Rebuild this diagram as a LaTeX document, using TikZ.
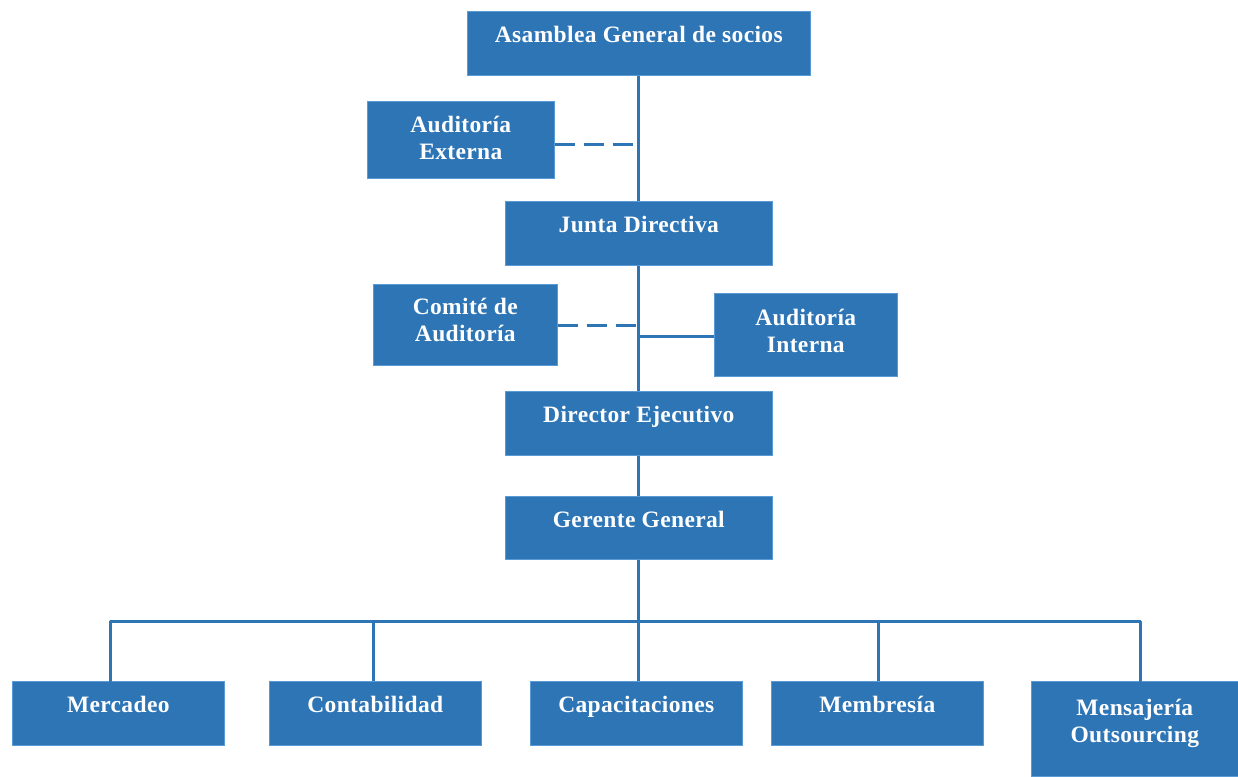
\documentclass[tikz,border=0pt]{standalone}
\usepackage{fontspec}
\setmainfont{Liberation Serif}
\newfontfamily\orgfont[LetterSpace=1.5]{Liberation Serif}
\definecolor{orgblue}{HTML}{2E75B6}
\definecolor{orgedge}{HTML}{5B9BD5}
\tikzset{
  orgbox/.style={fill=orgblue, draw=orgedge, line width=0.6pt, inner sep=0pt},
  orglbl/.style={text=white, font=\orgfont\bfseries\fontsize{23.5}{27}\selectfont, align=center, inner sep=0pt, anchor=base},
  conn/.style={draw=orgblue, line width=3pt},
  dconn/.style={conn, dash pattern=on 20pt off 9pt}
}
% #6: offset of the last baseline below the box top
\newcommand{\orgbox}[7]{%
  \node[orgbox, minimum width=#4-#2, minimum height=#5-#3, anchor=north west] (#1) at (#2,#3) {};
  \node[orglbl] (#1-t) at ([yshift=-#6pt]#1.north) {#7};
}
\begin{document}
\begin{tikzpicture}[x=1pt,y=-1pt]
\useasboundingbox (0,0) rectangle (1238,776);
% boxes
\orgbox{asamblea}{467}{11}{810}{75}{31}{Asamblea General de socios}
\orgbox{externa}{367}{101}{554}{178}{58}{Auditoría\\Externa}
\orgbox{junta}{505}{201}{772}{265}{31}{Junta Directiva}
\orgbox{comite}{373}{284}{557}{365}{57}{Comité de\\Auditoría}
\orgbox{interna}{714}{293}{897}{376}{59}{Auditoría\\Interna}
\orgbox{director}{505}{391}{772}{455}{31}{Director Ejecutivo}
\orgbox{gerente}{505}{496}{772}{559}{31}{Gerente General}
\orgbox{merc}{12}{681}{224}{745}{31}{Mercadeo}
\orgbox{conta}{269}{681}{481}{745}{31}{Contabilidad}
\orgbox{capa}{530}{681}{742}{745}{31}{Capacitaciones}
\orgbox{memb}{771}{681}{983}{745}{31}{Membresía}
\orgbox{mens}{1031}{681}{1238}{776}{61}{Mensajería\\Outsourcing}
% junction points
\coordinate (bus) at (gerente.south |- 0,621);
\coordinate (b1) at (110,621);
\coordinate (b2) at (373,621);
\coordinate (b4) at (878,621);
\coordinate (b5) at (1140,621);
\coordinate (ext) at (junta.north |- 0,144);
\coordinate (com) at (junta.north |- 0,325);
\coordinate (int) at (junta.north |- 0,336);
% lines
\draw[conn] (asamblea.south) -- (asamblea.south |- junta.north);
\draw[dconn] (externa.east |- ext) -- (ext);
\draw[conn] (junta.south) -- (junta.south |- director.north);
\draw[dconn] (comite.east |- com) -- (com);
\draw[conn] (int) -- (interna.west |- int);
\draw[conn] (director.south) -- (director.south |- gerente.north);
\draw[conn] (gerente.south) -- (bus) -- (bus |- capa.north);
\draw[conn, line cap=round, line join=round] (b1 |- merc.north) -- (b1) -- (b5) -- (b5 |- mens.north);
\draw[conn] (b2) -- (b2 |- conta.north);
\draw[conn] (b4) -- (b4 |- memb.north);
\end{tikzpicture}
\end{document}
